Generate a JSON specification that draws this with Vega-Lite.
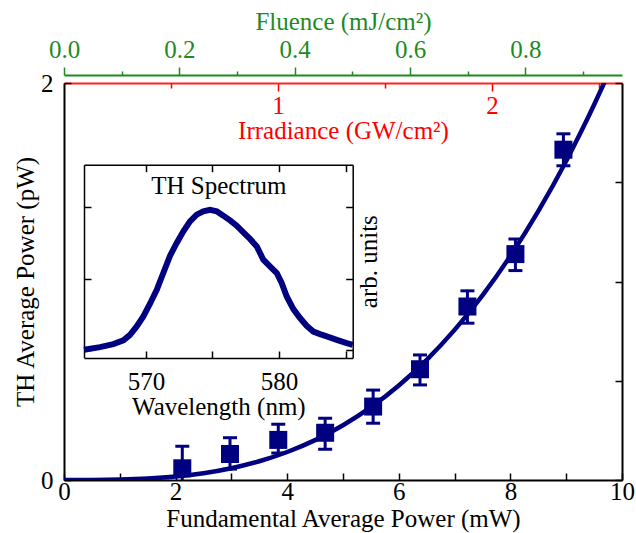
{
  "$schema": "https://vega.github.io/schema/vega-lite/v6.json",
  "width": 558,
  "height": 397,
  "autosize": {"type": "none"},
  "padding": {"left": 64, "top": 83, "right": 14, "bottom": 53},
  "background": "white",
  "config": {
    "view": {"stroke": null},
    "font": "Liberation Serif, Times New Roman, Times, DejaVu Serif, serif",
    "axis": {
      "labelFont": "Liberation Serif, Times New Roman, Times, DejaVu Serif, serif",
      "titleFont": "Liberation Serif, Times New Roman, Times, DejaVu Serif, serif",
      "labelFontSize": 25, "titleFontSize": 25, "titleFontWeight": "normal",
      "grid": false, "labelColor": "black", "titleColor": "black",
      "domainColor": "black", "tickColor": "black", "labelFlush": false,
      "labelOverlap": false, "domainWidth": 1.5, "tickWidth": 1.5
    }
  },
  "datasets": {
    "points": [
      {"P": 2.12, "TH": 0.059, "lo": -0.05, "hi": 0.17},
      {"P": 2.975, "TH": 0.131, "lo": 0.055, "hi": 0.213},
      {"P": 3.84, "TH": 0.202, "lo": 0.136, "hi": 0.281},
      {"P": 4.68, "TH": 0.238, "lo": 0.155, "hi": 0.311},
      {"P": 5.54, "TH": 0.37, "lo": 0.286, "hi": 0.453},
      {"P": 6.38, "TH": 0.558, "lo": 0.479, "hi": 0.63},
      {"P": 7.23, "TH": 0.874, "lo": 0.79, "hi": 0.953},
      {"P": 8.09, "TH": 1.138, "lo": 1.055, "hi": 1.214},
      {"P": 8.95, "TH": 1.664, "lo": 1.583, "hi": 1.744}
    ],
    "fit": [
      {"P": 0, "TH": 0}, {"P": 0.5, "TH": 0.0003}, {"P": 1, "TH": 0.0022},
      {"P": 1.5, "TH": 0.0074}, {"P": 2, "TH": 0.0176}, {"P": 2.5, "TH": 0.0345},
      {"P": 3, "TH": 0.0595}, {"P": 3.5, "TH": 0.0945}, {"P": 4, "TH": 0.1411},
      {"P": 4.5, "TH": 0.2009}, {"P": 5, "TH": 0.2756}, {"P": 5.5, "TH": 0.3669},
      {"P": 6, "TH": 0.4763}, {"P": 6.5, "TH": 0.6056}, {"P": 7, "TH": 0.7563},
      {"P": 7.5, "TH": 0.9302}, {"P": 8, "TH": 1.129}, {"P": 8.5, "TH": 1.3542},
      {"P": 9, "TH": 1.6074}, {"P": 9.25, "TH": 1.7452}, {"P": 9.5, "TH": 1.8905},
      {"P": 9.7, "TH": 2.0125}
    ],
    "spectrum": [
      {"wl": 565.34, "I": 0.004}, {"wl": 566.54, "I": 0.022}, {"wl": 567.54, "I": 0.043},
      {"wl": 568.3, "I": 0.069}, {"wl": 568.8, "I": 0.108}, {"wl": 569.3, "I": 0.167},
      {"wl": 569.8, "I": 0.237}, {"wl": 570.3, "I": 0.325}, {"wl": 570.81, "I": 0.423},
      {"wl": 571.3, "I": 0.54}, {"wl": 571.81, "I": 0.661}, {"wl": 572.31, "I": 0.75},
      {"wl": 572.81, "I": 0.831}, {"wl": 573.31, "I": 0.901}, {"wl": 573.81, "I": 0.948},
      {"wl": 574.31, "I": 0.971}, {"wl": 574.81, "I": 0.981}, {"wl": 575.32, "I": 0.971},
      {"wl": 575.81, "I": 0.941}, {"wl": 576.32, "I": 0.908}, {"wl": 576.82, "I": 0.871},
      {"wl": 577.32, "I": 0.824}, {"wl": 577.82, "I": 0.778}, {"wl": 578.33, "I": 0.726},
      {"wl": 578.82, "I": 0.633}, {"wl": 579.32, "I": 0.586}, {"wl": 579.83, "I": 0.54},
      {"wl": 580.2, "I": 0.47}, {"wl": 580.58, "I": 0.376}, {"wl": 581.08, "I": 0.288},
      {"wl": 581.58, "I": 0.225}, {"wl": 582.08, "I": 0.171}, {"wl": 582.58, "I": 0.131},
      {"wl": 583.08, "I": 0.113}, {"wl": 583.59, "I": 0.097}, {"wl": 584.34, "I": 0.073},
      {"wl": 585.09, "I": 0.05}, {"wl": 585.54, "I": 0.038}
    ],
    "fluence": [{"F": 0}, {"F": 0.9676}],
    "irradiance": [{"G": 0}, {"G": 2.607}]
  },
  "layer": [
    {
      "data": {"name": "fluence"},
      "layer": [
        {
          "mark": {"type": "point", "opacity": 0},
          "encoding": {
            "x": {
              "field": "F", "type": "quantitative",
              "scale": {"domain": [0, 0.9676], "nice": false, "zero": false},
              "axis": {
                "orient": "top", "offset": 8, "values": [0, 0.2, 0.4, 0.6, 0.8],
                "format": ".1f", "tickSize": 8, "tickColor": "#1e8b1e",
                "domainColor": "#1e8b1e", "domainWidth": 2, "labelColor": "#1e8b1e",
                "labelPadding": 5, "title": "Fluence (mJ/cm²)", "titleColor": "#1e8b1e",
                "titlePadding": 3
              }
            }
          }
        },
        {
          "mark": {"type": "point", "opacity": 0},
          "encoding": {
            "x": {
              "field": "F", "type": "quantitative",
              "axis": {
                "orient": "top", "offset": 8, "values": [0.1, 0.3, 0.5, 0.7, 0.9],
                "tickSize": 4, "tickColor": "#1e8b1e", "labels": false,
                "domain": false, "title": null
              }
            }
          }
        }
      ],
      "resolve": {"axis": {"x": "independent"}}
    },
    {
      "data": {"name": "irradiance"},
      "layer": [
        {
          "mark": {"type": "point", "opacity": 0},
          "encoding": {
            "x": {
              "field": "G", "type": "quantitative",
              "scale": {"domain": [0, 2.607], "nice": false, "zero": false},
              "axis": {
                "orient": "bottom", "offset": -397, "values": [1, 2], "format": "d",
                "tickSize": 8, "tickColor": "#ff0000", "domainColor": "#ff2222",
                "domainWidth": 2, "labelColor": "#ff0000", "labelPadding": 2,
                "title": "Irradiance (GW/cm²)", "titleColor": "#ff0000", "titlePadding": 0
              }
            }
          }
        },
        {
          "mark": {"type": "point", "opacity": 0},
          "encoding": {
            "x": {
              "field": "G", "type": "quantitative",
              "axis": {
                "orient": "bottom", "offset": -397, "values": [0.5, 1.5, 2.5],
                "tickSize": 5, "tickColor": "#ff0000", "labels": false,
                "domain": false, "title": null
              }
            }
          }
        }
      ],
      "resolve": {"axis": {"x": "independent"}}
    },
    {
      "data": {"name": "spectrum"},
      "layer": [
        {
          "mark": {"type": "line", "color": "#000080", "strokeWidth": 6},
          "encoding": {
            "x": {
              "field": "wl", "type": "quantitative",
              "scale": {"domain": [565.34, 585.54], "range": [20, 288.7], "nice": false, "zero": false},
              "axis": {
                "orient": "bottom", "offset": -122, "values": [570, 575, 580, 585],
                "labelExpr": "datum.value % 10 == 0 ? datum.label : ''",
                "tickSize": -7, "labelPadding": 18, "title": "Wavelength (nm)", "titlePadding": 0
              }
            },
            "y": {
              "field": "I", "type": "quantitative",
              "scale": {"domain": [-0.052, 1.297], "range": [274.7, 81.7], "nice": false, "zero": false},
              "axis": {
                "orient": "left", "offset": -20, "values": [0, 0.5, 1],
                "tickSize": -7, "labels": false, "title": null
              }
            }
          }
        },
        {
          "mark": {"type": "line", "opacity": 0},
          "encoding": {
            "x": {
              "field": "wl", "type": "quantitative",
              "axis": {
                "orient": "top", "offset": -81.7, "values": [570, 575, 580, 585],
                "tickSize": -7, "labels": false, "title": "TH Spectrum",
                "titleY": 21, "titleBaseline": "middle"
              }
            },
            "y": {
              "field": "I", "type": "quantitative",
              "axis": {
                "orient": "right", "offset": -269.3, "values": [0, 0.5, 1],
                "tickSize": -7, "labels": false, "title": "arb. units",
                "titleAngle": 270, "titleBaseline": "top", "titlePadding": 3
              }
            }
          }
        }
      ],
      "resolve": {"axis": {"x": "independent", "y": "independent"}}
    },
    {
      "layer": [
        {
          "data": {"name": "fit"},
          "mark": {"type": "line", "color": "#000080", "strokeWidth": 4.5, "clip": true, "interpolate": "monotone"},
          "encoding": {
            "x": {
              "field": "P", "type": "quantitative",
              "scale": {"domain": [0, 10], "nice": false},
              "axis": {
                "orient": "bottom", "values": [0, 1, 2, 3, 4, 5, 6, 7, 8, 9, 10],
                "labelExpr": "datum.value % 2 == 0 ? datum.label : ''",
                "tickSize": -7, "domainWidth": 2, "labelPadding": 6,
                "title": "Fundamental Average Power (mW)", "titlePadding": 2
              }
            },
            "y": {
              "field": "TH", "type": "quantitative",
              "scale": {"domain": [0, 2], "nice": false},
              "axis": {
                "orient": "left", "values": [0, 0.5, 1, 1.5, 2], "format": "d",
                "labelExpr": "datum.value % 1 == 0 ? datum.label : ''",
                "tickSize": -7, "domainWidth": 2, "labelPadding": 18,
                "title": "TH Average Power (pW)", "titlePadding": 2
              }
            }
          }
        },
        {
          "data": {"name": "points"},
          "mark": {"type": "rule", "color": "#000080", "strokeWidth": 3, "clip": true},
          "encoding": {
            "x": {"field": "P", "type": "quantitative", "axis": null},
            "y": {
              "field": "lo", "type": "quantitative",
              "axis": {
                "orient": "right", "values": [0, 0.5, 1, 1.5, 2], "tickSize": -7,
                "labels": false, "title": null, "domainWidth": 2
              }
            },
            "y2": {"field": "hi"}
          }
        },
        {
          "data": {"name": "points"},
          "mark": {"type": "tick", "orient": "horizontal", "color": "#000080", "size": 14, "thickness": 3, "opacity": 1, "clip": true},
          "encoding": {
            "x": {"field": "P", "type": "quantitative", "axis": null},
            "y": {"field": "hi", "type": "quantitative", "axis": null}
          }
        },
        {
          "data": {"name": "points"},
          "mark": {"type": "tick", "orient": "horizontal", "color": "#000080", "size": 14, "thickness": 3, "opacity": 1, "clip": true},
          "encoding": {
            "x": {"field": "P", "type": "quantitative", "axis": null},
            "y": {"field": "lo", "type": "quantitative", "axis": null}
          }
        },
        {
          "data": {"name": "points"},
          "mark": {"type": "square", "size": 324, "color": "#000080", "filled": true, "opacity": 1},
          "encoding": {
            "x": {"field": "P", "type": "quantitative", "axis": null},
            "y": {"field": "TH", "type": "quantitative", "axis": null}
          }
        }
      ],
      "resolve": {"axis": {"x": "independent", "y": "independent"}}
    }
  ],
  "resolve": {
    "scale": {"x": "independent", "y": "independent"},
    "axis": {"x": "independent", "y": "independent"}
  }
}
